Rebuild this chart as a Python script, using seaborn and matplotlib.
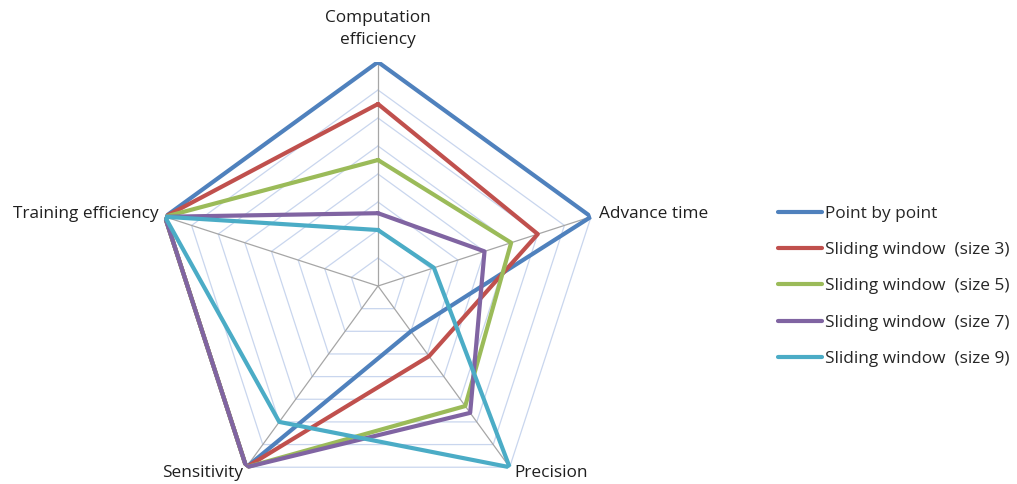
import numpy as np
import pandas as pd
import matplotlib
matplotlib.use("Agg")
import matplotlib.pyplot as plt
import seaborn as sns

# Radar axes (clockwise from the top)
categories = ["Computation\nefficiency", "Advance time", "Precision", "Sensitivity", "Training efficiency"]

series_names = [
    "Point by point",
    "Sliding window  (size 3)",
    "Sliding window  (size 5)",
    "Sliding window  (size 7)",
    "Sliding window  (size 9)",
]

point_by_point = [8.0, 8.0, 2.0, 8.0, 8.0]
window_3 = [6.5, 6.0, 3.1, 8.0, 8.0]
window_5 = [4.5, 5.0, 5.3, 8.0, 8.0]
window_7 = [2.6, 4.0, 5.6, 8.0, 8.0]
window_9 = [2.0, 2.1, 8.0, 6.0, 8.0]

series_values = [point_by_point, window_3, window_5, window_7, window_9]
colors = ["#4F81BD", "#C0504D", "#9BBB59", "#8064A2", "#4BACC6"]

r_max = 8
n_rings = 8
font_size = 12.4

sns.set_theme(style="white")
plt.rcParams["font.family"] = ["Open Sans", "DejaVu Sans"]

fig = plt.figure(figsize=(10.17, 4.84), dpi=100)
cx, cy, rad = 378 / 1017, 1 - 286 / 484, 224
w, h = 2 * rad / 1017, 2 * rad / 484
ax = fig.add_axes([cx - w / 2, cy - h / 2, w, h], projection="polar")
ax.set_theta_offset(np.pi / 2)
ax.set_theta_direction(-1)
ax.set_ylim(0, r_max)
ax.grid(False)
ax.spines["polar"].set_visible(False)
ax.set_xticks([])
ax.set_yticks([])
ax.patch.set_alpha(0)

n = len(categories)
angles = np.linspace(0, 2 * np.pi, n, endpoint=False)
closed = np.append(angles, angles[0] + 2 * np.pi)

# Pentagon rings and spokes
for k in range(1, n_rings + 1):
    r = r_max * k / n_rings
    ax.plot(closed, [r] * len(closed), color="#C9D6EE", lw=0.9, zorder=1)
for a in angles:
    ax.plot([a, a], [0, r_max], color="#A6A6A6", lw=0.9, zorder=1.5)

# Series as closed polygons
rows = []
for name, vals in zip(series_names, series_values):
    for a, v in zip(closed, list(vals) + [vals[0]]):
        rows.append({"angle": a, "value": v, "series": name})
df = pd.DataFrame(rows)

sns.lineplot(
    data=df, x="angle", y="value", hue="series", hue_order=series_names,
    palette=colors, sort=False, estimator=None, lw=3, ax=ax, legend=False,
    zorder=3,
)
ax.set_xlabel("")
ax.set_ylabel("")

# Category labels
label_specs = [
    dict(xytext=(0, 33), ha="center", va="center"),
    dict(xytext=(8, 3), ha="left", va="center"),
    dict(xytext=(5, -6), ha="left", va="center"),
    dict(xytext=(-3, -6), ha="right", va="center"),
    dict(xytext=(-6, 3), ha="right", va="center"),
]
for a, lab, spec in zip(angles, categories, label_specs):
    ax.annotate(lab, xy=(a, r_max), textcoords="offset pixels", fontsize=font_size,
                color="#1F1F1F", annotation_clip=False, linespacing=1.55, **spec)

handles = [plt.Line2D([], [], color=c, lw=3) for c in colors]
fig.legend(handles, series_names, loc="upper left", bbox_to_anchor=(778 / 1017, 1 - 206 / 484),
           frameon=False, fontsize=font_size, handlelength=2.55, handletextpad=0.2,
           labelspacing=1.17, borderpad=0, borderaxespad=0)

fig.savefig("out.png", dpi=100)
